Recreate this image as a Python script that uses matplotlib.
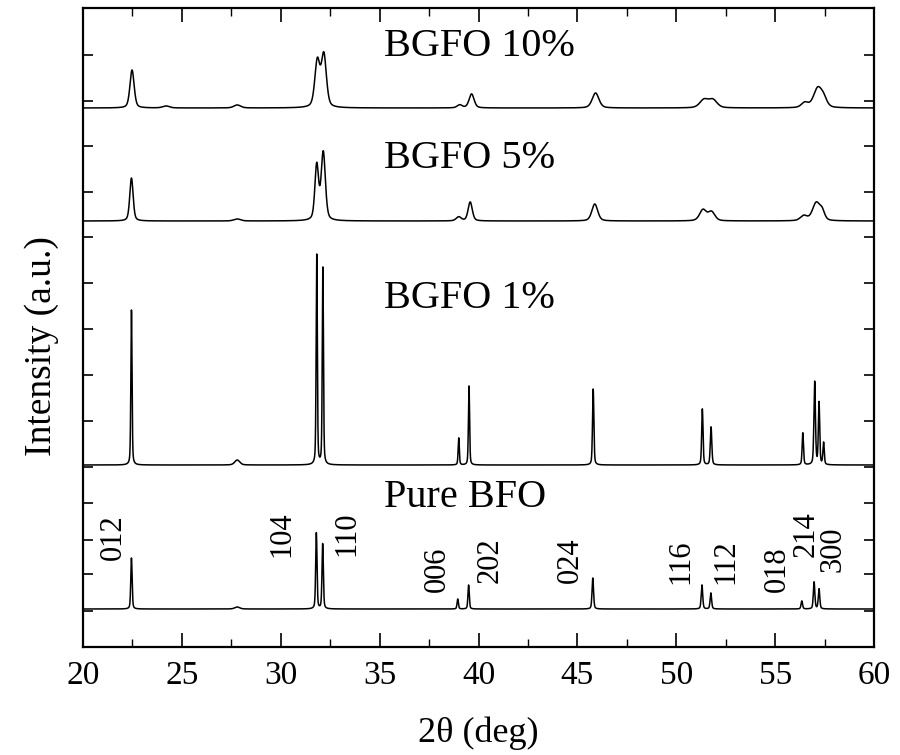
import numpy as np
import matplotlib
matplotlib.use("Agg")
import matplotlib.pyplot as plt

plt.rcParams['font.family'] = ['Liberation Serif', 'DejaVu Serif']

# peak lists: position (deg), height (px-like units), FWHM (deg)
pure_pos = [22.45, 31.80, 32.12, 38.95, 39.50, 45.78, 51.30, 51.75, 56.35, 56.97, 57.22, 27.8]
pure_h = [51, 76, 65, 10, 24, 31, 24, 16, 8, 27, 20, 2]
pure_w = [0.08, 0.08, 0.08, 0.08, 0.08, 0.09, 0.09, 0.09, 0.09, 0.09, 0.09, 0.3]

bg1_pos = [22.45, 31.82, 32.13, 39.00, 39.52, 45.80, 51.32, 51.76, 56.40, 57.00, 57.22, 57.45, 27.8]
bg1_h = [155, 210, 197, 27, 79, 76, 56, 38, 32, 83, 62, 22, 5]
bg1_w = [0.07, 0.07, 0.07, 0.07, 0.07, 0.08, 0.08, 0.09, 0.08, 0.09, 0.08, 0.08, 0.3]

bg5_pos = [22.45, 31.82, 32.15, 39.00, 39.58, 45.88, 51.35, 51.78, 56.45, 57.08, 57.38, 27.8]
bg5_h = [43, 55, 68, 4, 19, 17, 11, 9, 5, 18, 8, 2]
bg5_w = [0.2, 0.22, 0.25, 0.3, 0.25, 0.35, 0.4, 0.4, 0.4, 0.45, 0.3, 0.4]

bg10_pos = [22.48, 31.85, 32.18, 39.05, 39.65, 45.92, 51.40, 51.85, 56.50, 57.15, 57.45, 24.2, 27.8]
bg10_h = [38, 46, 52, 3, 14, 15, 8, 8, 5, 19, 8, 2, 3]
bg10_w = [0.25, 0.3, 0.3, 0.3, 0.3, 0.4, 0.5, 0.5, 0.4, 0.5, 0.4, 0.4, 0.4]

baselines = [38, 182, 426, 539]
names = ["Pure BFO", "BGFO 1%", "BGFO 5%", "BGFO 10%"]
name_y = [497, 298, 158, 46]   # pixel rows of sample labels (from top)

hkl = ["012", "104", "110", "006", "202", "024", "116", "112", "018", "214", "300"]
hkl_x = [21.52, 30.06, 33.35, 37.90, 40.58, 44.63, 50.24, 52.52, 55.10, 56.56, 57.93]
hkl_y = [537, 534, 534, 569, 560, 560, 562, 562, 569, 534, 549]

ytick_px = [55, 101, 146, 192, 237, 283, 329, 375, 421, 467, 503, 540, 574, 611]

x = np.linspace(20, 60, 8001)


def pattern(pos, h, w, base):
    y = np.full_like(x, float(base))
    for p, a, f in zip(pos, h, w):
        g = np.exp(-4 * np.log(2) * ((x - p) / f) ** 2)
        l = 1 / (1 + 4 * ((x - p) / f) ** 2)
        y += a * (0.6 * g + 0.4 * l)
    return y


fig = plt.figure(figsize=(9, 7.55), dpi=100)
ax = fig.add_axes([83 / 900, 1 - 647 / 755, (874 - 83) / 900, (647 - 8) / 755])

sets = [(pure_pos, pure_h, pure_w), (bg1_pos, bg1_h, bg1_w),
        (bg5_pos, bg5_h, bg5_w), (bg10_pos, bg10_h, bg10_w)]
for (p, h, w), b in zip(sets, baselines):
    ax.plot(x, pattern(p, h, w, b), color='black', lw=1.1)

for n, py in zip(names, name_y):
    ax.text(35.2, 647 - py, n, fontsize=29, ha='left', va='center')

for t, hx, hy in zip(hkl, hkl_x, hkl_y):
    ax.text(hx, 647 - hy, t, fontsize=22, rotation=90, ha='center', va='center')

ax.set_xlim(20, 60)
ax.set_ylim(0, 639)
ax.set_xticks(np.arange(20, 61, 5))
ax.set_xticks(np.arange(22.5, 60, 5), minor=True)
ax.set_yticks([647 - v for v in ytick_px])
ax.set_yticklabels([])
ax.tick_params(axis='x', which='major', direction='in', length=10, width=1.2,
               top=True, labelsize=24, pad=10)
ax.tick_params(axis='x', which='minor', direction='in', length=6, width=1.0, top=True)
ax.tick_params(axis='y', direction='in', length=7, width=1.2, right=True)
for s in ax.spines.values():
    s.set_linewidth(1.6)

ax.set_xlabel("2θ (deg)", fontsize=26, labelpad=18)
ax.set_ylabel("Intensity (a.u.)", fontsize=27)
ax.yaxis.set_label_coords(-0.03, 0.471)

fig.savefig("out.png", dpi=100)
